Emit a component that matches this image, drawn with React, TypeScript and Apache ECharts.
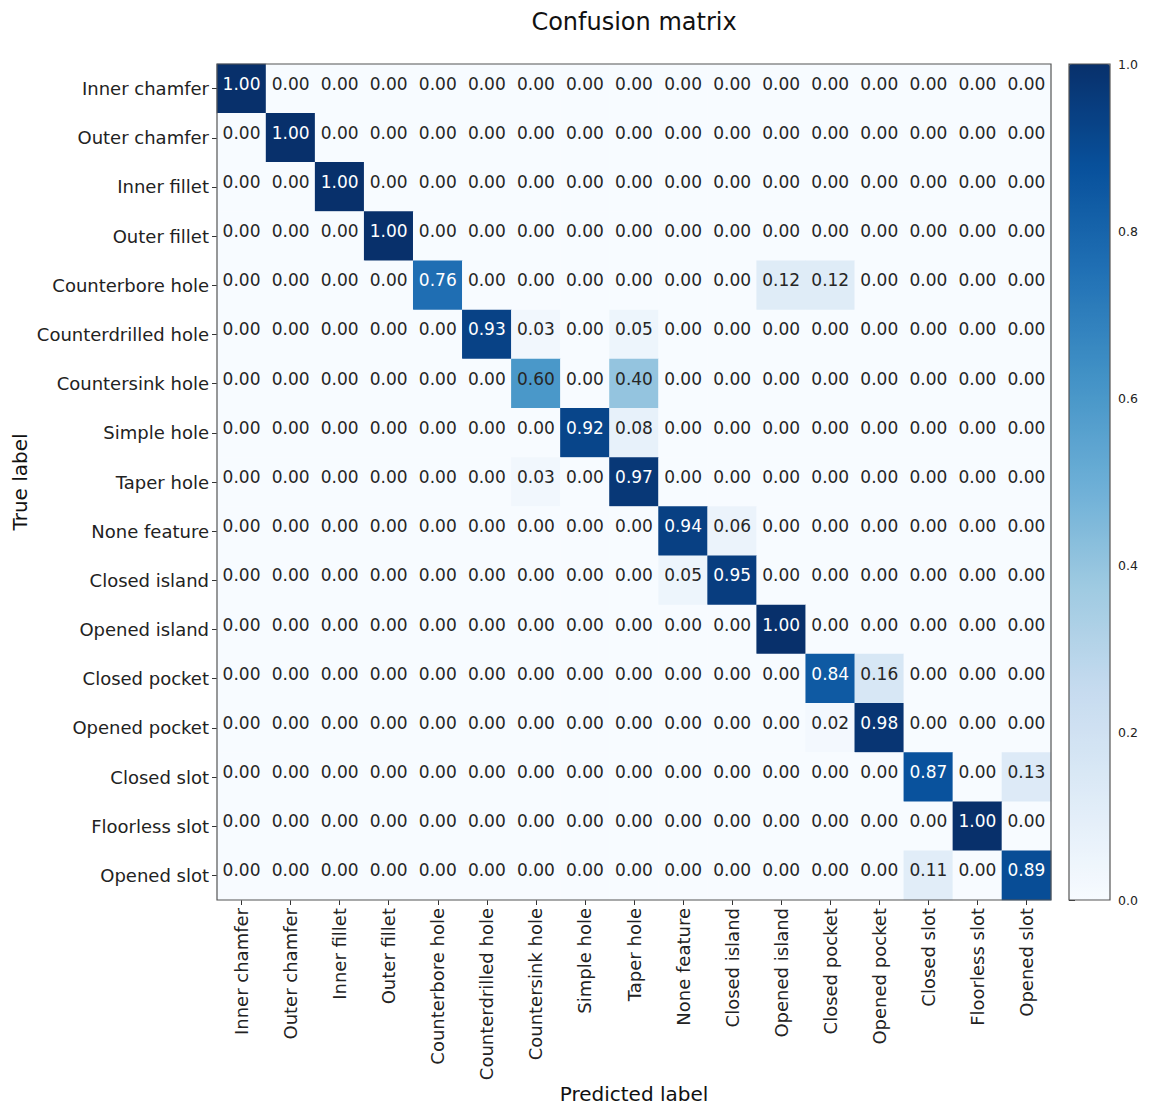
import React, { useEffect, useRef } from "react";
import * as echarts from "echarts";

const labels = [
  "Inner chamfer",
  "Outer chamfer",
  "Inner fillet",
  "Outer fillet",
  "Counterbore hole",
  "Counterdrilled hole",
  "Countersink hole",
  "Simple hole",
  "Taper hole",
  "None feature",
  "Closed island",
  "Opened island",
  "Closed pocket",
  "Opened pocket",
  "Closed slot",
  "Floorless slot",
  "Opened slot",
];

// Non-zero entries: [trueRow, predictedCol, value]
const nonZero: [number, number, number][] = [
  [0, 0, 1.0],
  [1, 1, 1.0],
  [2, 2, 1.0],
  [3, 3, 1.0],
  [4, 4, 0.76],
  [4, 11, 0.12],
  [4, 12, 0.12],
  [5, 5, 0.93],
  [5, 6, 0.03],
  [5, 8, 0.05],
  [6, 6, 0.6],
  [6, 8, 0.4],
  [7, 7, 0.92],
  [7, 8, 0.08],
  [8, 6, 0.03],
  [8, 8, 0.97],
  [9, 9, 0.94],
  [9, 10, 0.06],
  [10, 9, 0.05],
  [10, 10, 0.95],
  [11, 11, 1.0],
  [12, 12, 0.84],
  [12, 13, 0.16],
  [13, 12, 0.02],
  [13, 13, 0.98],
  [14, 14, 0.87],
  [14, 16, 0.13],
  [15, 15, 1.0],
  [16, 14, 0.11],
  [16, 16, 0.89],
];

const colorbarTicks = [0, 0.2, 0.4, 0.6, 0.8, 1.0];

const blues = [
  "#f7fbff",
  "#deebf7",
  "#c6dbef",
  "#9ecae1",
  "#6baed6",
  "#4292c6",
  "#2171b5",
  "#08519c",
  "#08306b",
];

const FONT = "DejaVu Sans";

export default function App() {
  const ref = useRef<HTMLDivElement>(null);

  useEffect(() => {
    if (!ref.current) return;
    const chart = echarts.init(ref.current, null, { renderer: "svg" });

    const matrix: number[][] = labels.map(() => labels.map(() => 0));
    nonZero.forEach(([r, c, v]) => {
      matrix[r][c] = v;
    });
    const data: any[] = [];
    for (let r = 0; r < labels.length; r++) {
      for (let c = 0; c < labels.length; c++) {
        const v = matrix[r][c];
        data.push({
          value: [c, r, v],
          label: { color: v > 0.7 ? "#ffffff" : "#262626" },
        });
      }
    }

    const gl = 209, gt = 56, gw = 834, gh = 836;
    const cbL = 1061, cbW = 41;

    chart.setOption({
      animation: false,
      backgroundColor: "#ffffff",
      textStyle: { fontFamily: FONT },
      grid: [
        { left: gl, top: gt, width: gw, height: gh },
        { left: cbL, top: gt, width: cbW, height: gh },
      ],
      xAxis: [
        {
          type: "category",
          data: labels,
          gridIndex: 0,
          position: "bottom",
          axisLine: { show: false },
          axisTick: { show: true, alignWithLabel: true, length: 5, lineStyle: { color: "#333" } },
          splitLine: { show: false },
          axisLabel: {
            rotate: 90,
            fontSize: 18,
            fontFamily: FONT,
            color: "#222",
            margin: 8,
            interval: 0,
          },
        },
        { type: "value", gridIndex: 1, show: false, min: 0, max: 1 },
      ],
      yAxis: [
        {
          type: "category",
          data: labels,
          gridIndex: 0,
          inverse: true,
          axisLine: { show: false },
          axisTick: { show: true, alignWithLabel: true, length: 5, lineStyle: { color: "#333" } },
          splitLine: { show: false },
          axisLabel: {
            fontSize: 18,
            fontFamily: FONT,
            color: "#222",
            margin: 8,
            interval: 0,
          },
        },
        {
          type: "value",
          gridIndex: 1,
          min: 0,
          max: 1,
          interval: 0.2,
          position: "right",
          axisLine: { show: false },
          splitLine: { show: false },
          axisTick: { show: true, length: 6, lineStyle: { color: "#333" } },
          axisLabel: {
            fontSize: 12.5,
            fontFamily: FONT,
            color: "#222",
            margin: 8,
            formatter: (v: number) => v.toFixed(1),
          },
          data: colorbarTicks,
        },
      ],
      visualMap: {
        type: "continuous",
        seriesIndex: 0,
        dimension: 2,
        min: 0,
        max: 1,
        calculable: false,
        hoverLink: false,
        left: cbL,
        top: gt,
        padding: 0,
        itemWidth: cbW,
        itemHeight: gh,
        text: null,
        showLabel: false,
        inRange: { color: blues },
      },
      series: [
        {
          type: "heatmap",
          xAxisIndex: 0,
          yAxisIndex: 0,
          data,
          itemStyle: { borderWidth: 0 },
          label: {
            show: true,
            fontSize: 17,
            fontFamily: FONT,
            offset: [0, -5],
            formatter: (p: any) => p.value[2].toFixed(2),
          },
          emphasis: { disabled: true },
        },
      ],
      graphic: [
        {
          type: "rect",
          z: 100,
          shape: { x: gl, y: gt, width: gw, height: gh },
          style: { fill: "none", stroke: "#555", lineWidth: 1.2 },
        },
        {
          type: "rect",
          z: 100,
          shape: { x: cbL, y: gt, width: cbW, height: gh },
          style: { fill: "none", stroke: "#555", lineWidth: 1.2 },
        },
        {
          type: "text",
          x: gl + gw / 2,
          y: 14,
          style: {
            text: "Confusion matrix",
            font: `24px '${FONT}'`,
            fill: "#111",
            textAlign: "center",
            textVerticalAlign: "middle",
          },
        },
        {
          type: "text",
          x: gl + gw / 2,
          y: 1086,
          style: {
            text: "Predicted label",
            font: `20px '${FONT}'`,
            fill: "#111",
            textAlign: "center",
            textVerticalAlign: "middle",
          },
        },
        {
          type: "text",
          x: 12,
          y: gt + gh / 2,
          rotation: Math.PI / 2,
          style: {
            text: "True label",
            font: `20px '${FONT}'`,
            fill: "#111",
            textAlign: "center",
            textVerticalAlign: "middle",
          },
        },
      ],
    });

    return () => chart.dispose();
  }, []);

  return <div ref={ref} style={{ width: 1141, height: 1099 }} />;
}
